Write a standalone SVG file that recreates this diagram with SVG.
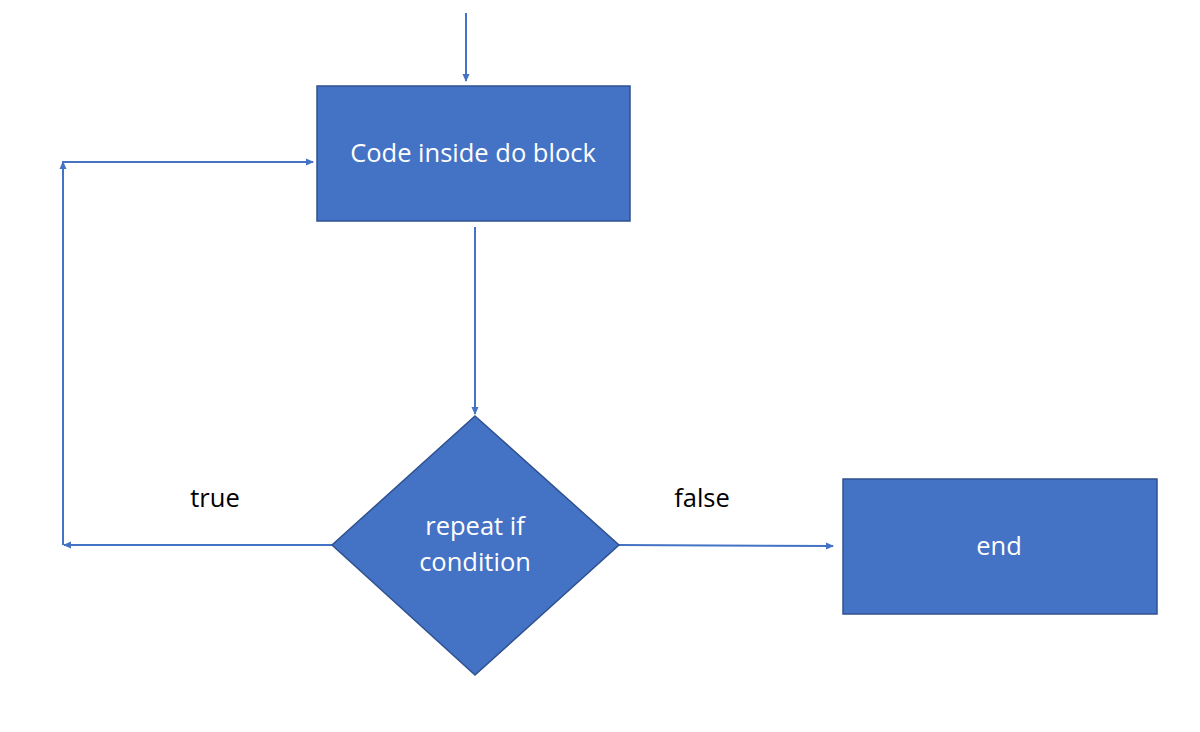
<svg xmlns="http://www.w3.org/2000/svg" width="1200" height="732" viewBox="0 0 1200 732">
<style>
.node{fill:#4472C4;stroke:#2F528F;stroke-width:1.5}
.ntext{fill:#ffffff;font-family:"Open Sans","Liberation Sans",sans-serif;font-size:25.5px;text-anchor:middle}
.label{fill:#000000;font-family:"Open Sans","Liberation Sans",sans-serif;font-size:25.5px;text-anchor:middle}
.conn{fill:none;stroke:#4472C4;stroke-width:2}
</style>
<defs>
<marker id="arrow" markerWidth="8" markerHeight="8" refX="7" refY="4" orient="auto" markerUnits="userSpaceOnUse">
<path d="M0,0.5 L8,4 L0,7.5 Z" fill="#4472C4"/>
</marker>
</defs>
<rect width="1200" height="732" fill="#ffffff"/>
<g id="connectors">
<line class="conn" x1="466" y1="13" x2="466" y2="81" marker-end="url(#arrow)"/>
<line class="conn" x1="475" y1="227" x2="475" y2="414" marker-end="url(#arrow)"/>
<line class="conn" x1="332" y1="545" x2="64" y2="545" marker-end="url(#arrow)"/>
<line class="conn" x1="63" y1="545" x2="63" y2="162" marker-end="url(#arrow)"/>
<line class="conn" x1="62" y1="162" x2="313" y2="162" marker-end="url(#arrow)"/>
<line class="conn" x1="619" y1="545" x2="833" y2="546" marker-end="url(#arrow)"/>
</g>
<g id="node-code">
<rect class="node" x="317" y="86" width="313" height="135"/>
<text class="ntext" x="473" y="162">Code inside do block</text>
</g>
<g id="node-condition">
<polygon class="node" points="475,416 619,545 475,675 332,545"/>
<text class="ntext" x="475" y="535">repeat if</text>
<text class="ntext" x="475" y="571">condition</text>
</g>
<g id="node-end">
<rect class="node" x="843" y="479" width="314" height="135"/>
<text class="ntext" x="999" y="555">end</text>
</g>
<g id="labels">
<text class="label" x="215" y="507">true</text>
<text class="label" x="702" y="507">false</text>
</g>
</svg>
